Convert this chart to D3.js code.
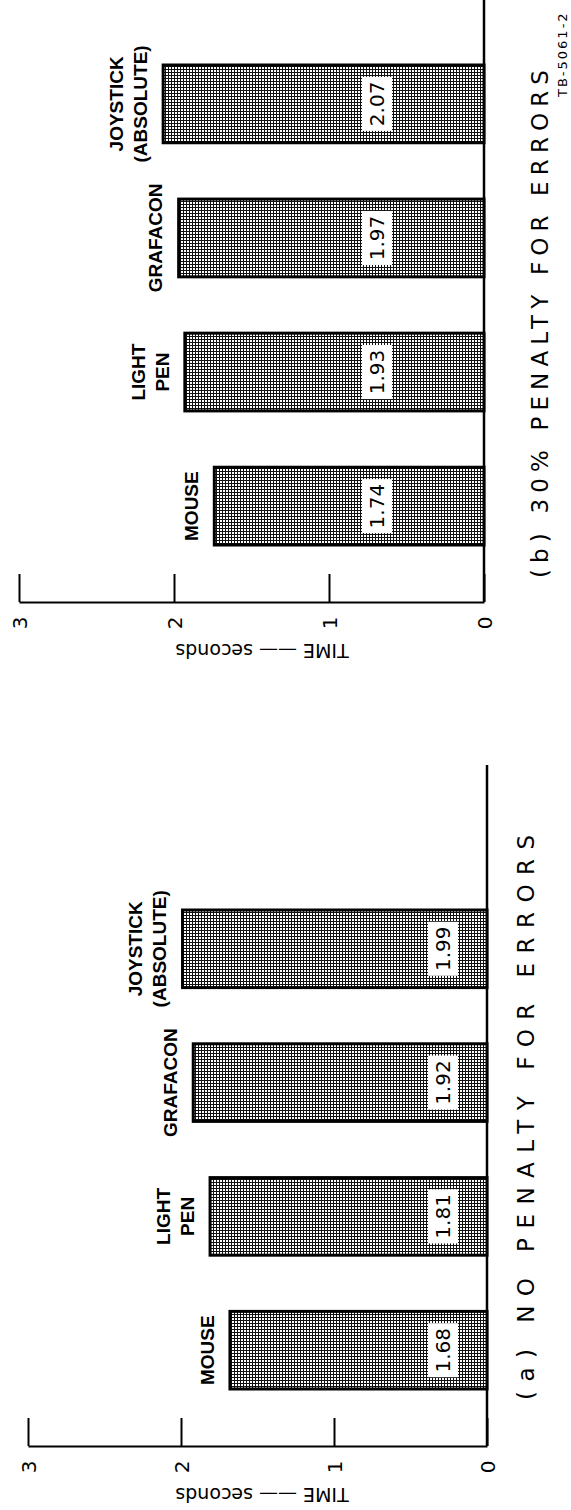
<!DOCTYPE html>
<meta charset="utf-8">
<head>
<script src="https://cdn.jsdelivr.net/npm/d3@7"></script>
<style>
  body { margin: 0; background: #fff; }
  svg { display: block; }
</style>
</head>
<body>
<div id="chart"></div>
<script>

  // data
  var categories = ["MOUSE", "LIGHT PEN", "GRAFACON", "JOYSTICK (ABSOLUTE)"];
  var categoryLines = [["MOUSE"], ["LIGHT", "PEN"], ["GRAFACON"], ["JOYSTICK", "(ABSOLUTE)"]];
  var noPenaltyTimes = [1.68, 1.81, 1.92, 1.99];
  var penaltyTimes = [1.74, 1.93, 1.97, 2.07];
  var timeTicks = [0, 1, 2, 3];
  var captions = ["(a) NO PENALTY FOR ERRORS", "(b) 30% PENALTY FOR ERRORS"];
  var axisTitle = "TIME \u2014\u2014 seconds";
  var figureId = "TB-5061-2";

  var width = 571, height = 1510;

  var svg = d3.select("#chart").append("svg")
      .attr("width", width)
      .attr("height", height);

  // halftone screen used for the bars
  var defs = svg.append("defs");
  var pat = defs.append("pattern")
      .attr("id", "screen")
      .attr("width", 3)
      .attr("height", 3)
      .attr("patternUnits", "userSpaceOnUse");
  pat.append("rect").attr("width", 3).attr("height", 3).attr("fill", "#111");
  pat.append("rect").attr("x", 1).attr("y", 1).attr("width", 2).attr("height", 2).attr("fill", "#fff");

  // the whole figure is turned on its side, so the value axis runs right->left
  var panels = [
    { values: noPenaltyTimes, caption: captions[0], x0: 487, x3: 28, top: 910, bottom: 1389,
      axisY: 1446, lineTop: 765, valueOffset: 44, captionX: 526, captionStart: 1400, captionLen: 565 },
    { values: penaltyTimes, caption: captions[1], x0: 484, x3: 19, top: 65, bottom: 545,
      axisY: 602, lineTop: 0, valueOffset: 107, captionX: 540, captionStart: 578, captionLen: 508 }
  ];

  panels.forEach(drawPanel);

  svg.append("text")
      .attr("transform", "translate(562,97) rotate(-90)")
      .attr("dy", "0.35em")
      .attr("font-family", "DejaVu Sans")
      .attr("font-size", 13)
      .attr("letter-spacing", 2)
      .text(figureId);

  function drawPanel(p) {
    var g = svg.append("g");

    var x = d3.scaleLinear().domain([0, 3]).range([p.x0, p.x3]);
    var y = d3.scaleBand()
        .domain(categories.slice().reverse())
        .range([p.top, p.bottom])
        .paddingInner(0.42);

    var rows = categories.map(function (c, i) {
      return { cat: c, lines: categoryLines[i], v: p.values[i] };
    });

    // value axis
    var ax = g.append("g")
        .attr("transform", "translate(0," + p.axisY + ")")
        .call(d3.axisBottom(x).tickValues(timeTicks).tickSize(-28).tickSizeOuter(0).tickFormat(d3.format("d")));
    ax.select(".domain").attr("stroke", "#000").attr("stroke-width", 2.2);
    ax.selectAll(".tick line").attr("stroke", "#000").attr("stroke-width", 2);
    ax.selectAll(".tick text")
        .attr("y", 0)
        .attr("dy", "0.35em")
        .attr("transform", "translate(0,21) rotate(-90)")
        .attr("text-anchor", "middle")
        .attr("font-family", "DejaVu Sans")
        .attr("font-size", 20)
        .attr("fill", "#000");

    svg.append("text")
        .attr("transform", "translate(262," + (p.axisY + 49) + ") rotate(180)")
        .attr("dy", "0.35em")
        .attr("text-anchor", "middle")
        .attr("font-family", "DejaVu Sans")
        .attr("font-size", 19)
        .text(axisTitle);

    // zero line
    g.append("line")
        .attr("x1", x(0)).attr("x2", x(0))
        .attr("y1", p.lineTop).attr("y2", p.axisY)
        .attr("stroke", "#000")
        .attr("stroke-width", 2.5);

    // bars
    g.selectAll(".bar")
        .data(rows)
        .enter().append("rect")
        .attr("class", "bar")
        .attr("x", function (d) { return x(d.v); })
        .attr("y", function (d) { return y(d.cat); })
        .attr("width", function (d) { return x(0) - x(d.v); })
        .attr("height", y.bandwidth())
        .attr("fill", "url(#screen)")
        .attr("stroke", "#000")
        .attr("stroke-width", 3);

    // category names beyond the bar ends
    var lab = g.selectAll(".cat")
        .data(rows)
        .enter().append("g")
        .attr("class", "cat")
        .attr("transform", function (d) {
          return "translate(" + (x(d.v) - 23) + "," + (y(d.cat) + y.bandwidth() / 2) + ") rotate(-90)";
        });
    lab.selectAll("text")
        .data(function (d) { return d.lines.map(function (t, i) { return { t: t, i: i, n: d.lines.length }; }); })
        .enter().append("text")
        .attr("y", function (d) { return (d.i - (d.n - 1)) * 24; })
        .attr("dy", "0.35em")
        .attr("text-anchor", "middle")
        .attr("font-family", "Liberation Sans")
        .attr("font-weight", "bold")
        .attr("font-size", 19)
        .text(function (d) { return d.t; });

    // value boxes inside the bars
    var vb = g.selectAll(".val")
        .data(rows)
        .enter().append("g")
        .attr("class", "val")
        .attr("transform", function (d) {
          return "translate(" + (x(0) - p.valueOffset) + "," + (y(d.cat) + y.bandwidth() / 2) + ") rotate(-90)";
        });
    vb.append("rect")
        .attr("x", -27).attr("y", -15)
        .attr("width", 54).attr("height", 30)
        .attr("fill", "#fff");
    vb.append("text")
        .attr("dy", "0.36em")
        .attr("text-anchor", "middle")
        .attr("font-family", "DejaVu Sans")
        .attr("font-size", 20)
        .text(function (d) { return d3.format(".2f")(d.v); });

    // caption
    svg.append("text")
        .attr("transform", "translate(" + p.captionX + "," + p.captionStart + ") rotate(-90)")
        .attr("dy", "0.35em")
        .attr("font-family", "DejaVu Sans")
        .attr("font-size", 23)
        .attr("textLength", p.captionLen)
        .attr("lengthAdjust", "spacing")
        .text(p.caption);
  }

</script>
</body>
